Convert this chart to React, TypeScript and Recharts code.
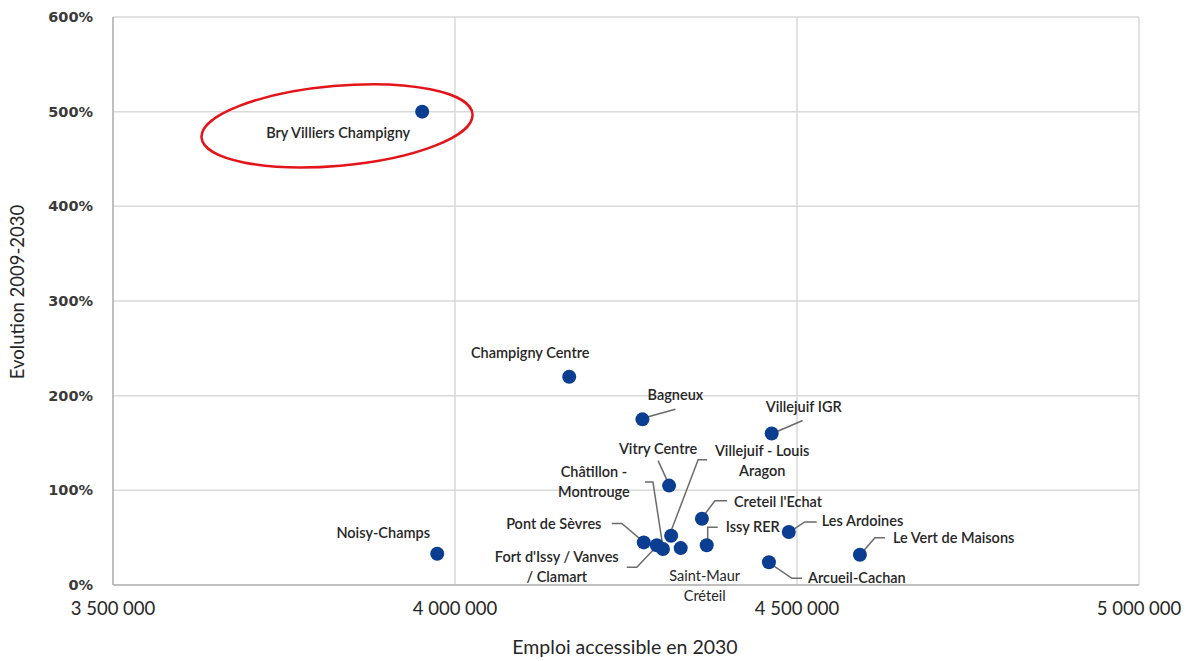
import React from "react";
import {
  ScatterChart,
  Scatter,
  XAxis,
  YAxis,
  CartesianGrid,
  ReferenceDot,
  Label,
} from "recharts";

// Stations: accessible jobs in 2030 vs. growth 2009-2030 (%)
const stations = [
  "Bry Villiers Champigny",
  "Noisy-Champs",
  "Champigny Centre",
  "Bagneux",
  "Villejuif IGR",
  "Vitry Centre",
  "Villejuif - Louis Aragon",
  "Créteil l'Echat",
  "Pont de Sèvres",
  "Châtillon - Montrouge",
  "Fort d'Issy / Vanves / Clamart",
  "Saint-Maur Créteil",
  "Issy RER",
  "Arcueil-Cachan",
  "Les Ardoines",
  "Le Vert de Maisons",
];
const jobs2030 = [
  3952000, 3974000, 4167000, 4274000, 4463000, 4313000, 4316000, 4361000,
  4276000, 4304000, 4295000, 4330000, 4368000, 4459000, 4488000, 4592000,
];
const growth = [500, 33, 220, 175, 160, 105, 52, 70, 45, 38, 42, 39, 42, 24, 56, 32];

const xTicks = [3500000, 4000000, 4500000, 5000000];
const yTicks = [0, 100, 200, 300, 400, 500, 600];

// label placement around each dot: text lines, anchor, offsets and leader path
type LabelSpec = {
  lines: string[];
  anchor: "start" | "middle" | "end";
  dx: number;
  dy: number;
  leader?: [number, number][];
  weight?: number;
};
const labelSpecs: Record<string, LabelSpec> = {
  "Bry Villiers Champigny": { lines: ["Bry Villiers Champigny"], anchor: "middle", dx: -84, dy: 26 },
  "Noisy-Champs": { lines: ["Noisy-Champs"], anchor: "middle", dx: -54, dy: -16 },
  "Champigny Centre": { lines: ["Champigny Centre"], anchor: "middle", dx: -39, dy: -19 },
  Bagneux: { lines: ["Bagneux"], anchor: "middle", dx: 33, dy: -19, leader: [[4, -2], [33, -10]] },
  "Villejuif IGR": { lines: ["Villejuif IGR"], anchor: "middle", dx: 32, dy: -22, leader: [[3, -1], [31, -13]] },
  "Vitry Centre": { lines: ["Vitry Centre"], anchor: "middle", dx: -11, dy: -32, leader: [[-11, -25], [-1, -3]] },
  "Villejuif - Louis Aragon": {
    lines: ["Villejuif - Louis", "Aragon"],
    anchor: "middle",
    dx: 91,
    dy: -80,
    leader: [[0, -5], [27, -76], [36, -76]],
  },
  "Créteil l'Echat": { lines: ["Creteil l'Echat"], anchor: "start", dx: 32, dy: -12, leader: [[1, -2], [13, -18], [25, -18]] },
  "Pont de Sèvres": { lines: ["Pont de Sèvres"], anchor: "middle", dx: -90, dy: -13, leader: [[-32, -19], [-22, -19], [-2, -2]] },
  "Châtillon - Montrouge": {
    lines: ["Châtillon -", "Montrouge"],
    anchor: "middle",
    dx: -69,
    dy: -72,
    leader: [[-18, -67], [-10, -67], [0, -2]],
  },
  "Fort d'Issy / Vanves / Clamart": {
    lines: ["Fort d'Issy / Vanves", "/ Clamart"],
    anchor: "middle",
    dx: -100,
    dy: 17,
    leader: [[-30, 22], [-20, 22], [-1, 2]],
  },
  "Saint-Maur Créteil": { lines: ["Saint-Maur", "Créteil"], anchor: "middle", dx: 24, dy: 33, weight: 400 },
  "Issy RER": { lines: ["Issy RER"], anchor: "start", dx: 19, dy: -13, leader: [[1, -2], [1, -18], [11, -18]] },
  "Arcueil-Cachan": { lines: ["Arcueil-Cachan"], anchor: "start", dx: 39, dy: 21, leader: [[4, 3], [23, 16], [33, 16]] },
  "Les Ardoines": { lines: ["Les Ardoines"], anchor: "start", dx: 33, dy: -6, leader: [[4, -2], [16, -10], [28, -10]] },
  "Le Vert de Maisons": { lines: ["Le Vert de Maisons"], anchor: "start", dx: 33, dy: -12, leader: [[2, -2], [15, -17], [25, -17]] },
};

const data = stations.map((name, i) => ({ name, x: jobs2030[i], y: growth[i] }));

const FONT = "Lato, 'Open Sans', sans-serif";
const TEXT = "#262626";
const DOT = "#0b3d91";

const fmtJobs = (v: number) => v.toLocaleString("fr-FR").replace(/\u202f|\u00a0/g, " ");

function StationDot(props: any) {
  const { cx, cy, payload } = props;
  const spec = labelSpecs[payload.name];
  return (
    <g>
      {spec?.leader && (
        <polyline
          points={spec.leader.map(([px, py]) => `${cx + px},${cy + py}`).join(" ")}
          fill="none"
          stroke="#6b6b6b"
          strokeWidth={1.5}
        />
      )}
      <circle cx={cx} cy={cy} r={7} fill={DOT} />
      {spec &&
        spec.lines.map((line, i) => (
          <text
            key={i}
            x={cx + spec.dx}
            y={cy + spec.dy + i * 20}
            textAnchor={spec.anchor}
            fontFamily={FONT}
            fontSize={14.5}
            fontWeight={spec.weight ?? 600}
            fill={TEXT}
          >
            {line}
          </text>
        ))}
    </g>
  );
}

function XTick(props: any) {
  const { x, y, payload } = props;
  return (
    <text x={x} y={y + 22} textAnchor="middle" fontFamily={FONT} fontSize={18.5} fill={TEXT}>
      {fmtJobs(payload.value)}
    </text>
  );
}

function YTick(props: any) {
  const { x, y, payload } = props;
  return (
    <text x={x - 12} y={y + 5} textAnchor="end" fontFamily="'DejaVu Sans', sans-serif" fontSize={14.5} fontWeight={700} fill="#3a3a3a">
      {`${payload.value}%`}
    </text>
  );
}

function HighlightRing(props: any) {
  const { cx, cy } = props;
  return (
    <ellipse
      cx={cx}
      cy={cy}
      rx={136}
      ry={40}
      transform={`rotate(-5 ${cx} ${cy})`}
      fill="none"
      stroke="#e3151a"
      strokeWidth={2.5}
    />
  );
}

export default function App() {
  return (
    <div style={{ position: "fixed", left: 0, top: 0, background: "#fff" }}>
      <ScatterChart width={1189} height={661} margin={{ top: 17, right: 50, bottom: 46, left: 0 }}>
        <CartesianGrid stroke="#d9d9d9" strokeWidth={1.5} />
        <XAxis
          type="number"
          dataKey="x"
          height={30}
          domain={[3500000, 5000000]}
          ticks={xTicks}
          tick={<XTick />}
          tickLine={false}
          axisLine={{ stroke: "#bfbfbf", strokeWidth: 2 }}
          allowDataOverflow
        >
          <Label
            content={() => (
              <text x={625} y={654} textAnchor="middle" fontFamily={FONT} fontSize={19.5} fill={TEXT}>
                Emploi accessible en 2030
              </text>
            )}
          />
        </XAxis>
        <YAxis
          type="number"
          dataKey="y"
          width={113}
          domain={[0, 600]}
          ticks={yTicks}
          tick={<YTick />}
          tickLine={false}
          axisLine={{ stroke: "#bfbfbf", strokeWidth: 2 }}
        >
          <Label
            content={() => (
              <text
                x={24}
                y={292}
                transform="rotate(-90 24 292)"
                textAnchor="middle"
                fontFamily={FONT}
                fontSize={18.5}
                fill={TEXT}
              >
                Evolution 2009-2030
              </text>
            )}
          />
        </YAxis>
        <ReferenceDot x={3827500} y={485} shape={<HighlightRing />} />
        <Scatter data={data} shape={<StationDot />} isAnimationActive={false} />
      </ScatterChart>
    </div>
  );
}
